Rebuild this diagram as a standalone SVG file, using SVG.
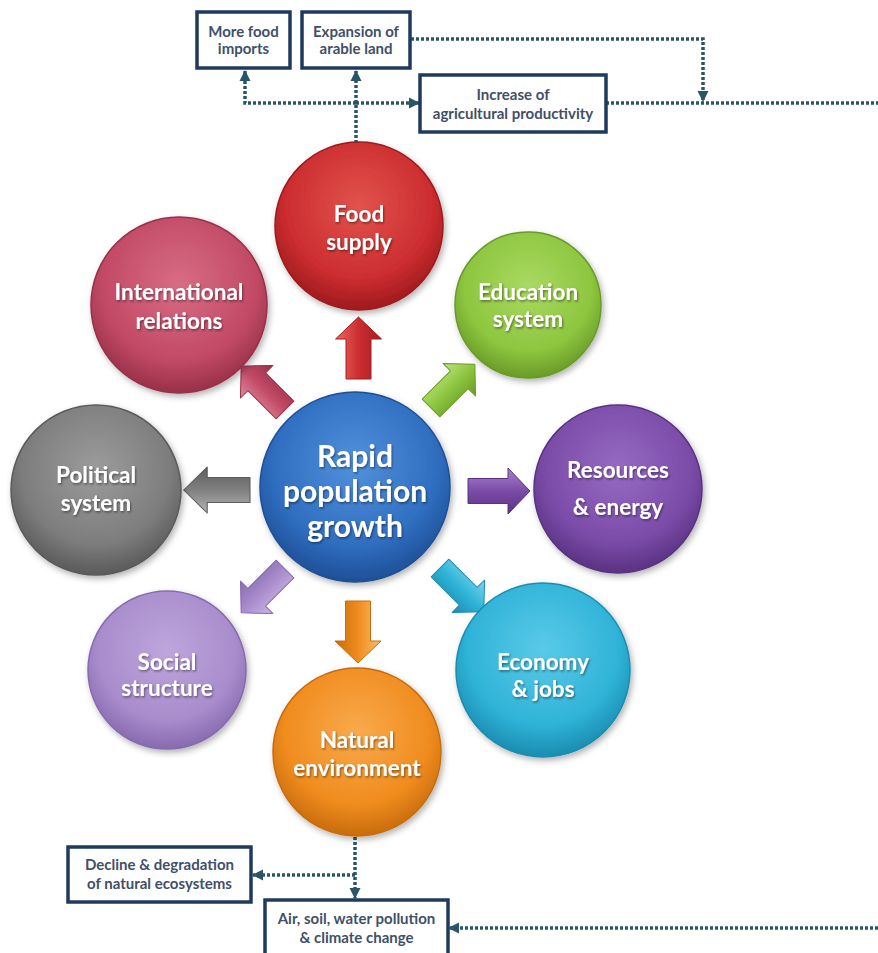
<svg xmlns="http://www.w3.org/2000/svg" width="878" height="953" viewBox="0 0 878 953">
<defs>
<style>
.c{font-family:Lato,"Open Sans","DejaVu Sans",sans-serif;font-weight:bold;fill:#fff;text-anchor:middle;filter:url(#ts)}
.cl{font-size:22.5px}
.big{font-size:30px}
.bx rect{fill:#fff;stroke:#1f3a5c;stroke-width:3.5}
.bt{font-family:Lato,"Open Sans","DejaVu Sans",sans-serif;font-weight:bold;font-size:15px;fill:#3f5068;text-anchor:middle}
.dl{fill:none;stroke:#2a5566;stroke-width:3.5;stroke-dasharray:3 2}
.ar{stroke-width:1;stroke-linejoin:round}
</style>
<filter id="ds" x="-20%" y="-20%" width="140%" height="140%"><feDropShadow dx="2" dy="3" stdDeviation="3" flood-color="#000" flood-opacity="0.3"/></filter>
<filter id="ts" x="-10%" y="-30%" width="120%" height="160%"><feDropShadow dx="1" dy="1.5" stdDeviation="1" flood-color="#000" flood-opacity="0.45"/></filter>
<marker id="ah" markerUnits="userSpaceOnUse" markerWidth="12" markerHeight="12" viewBox="0 0 12 12" refX="10" refY="6" orient="auto"><path d="M0,0.5 L11,6 L0,11.5 Z" fill="#2a5566"/></marker>
<path id="arr" d="M0,-12.5 L40,-12.5 L40,-23 L62,0 L40,23 L40,12.5 L0,12.5 Z"/>
<radialGradient id="gBlue" cx="50%" cy="38%" r="62%"><stop offset="0" stop-color="#5291dc"/><stop offset="0.7" stop-color="#2f6dbf"/><stop offset="1" stop-color="#1e4f96"/></radialGradient>
<radialGradient id="gRed" cx="50%" cy="38%" r="62%"><stop offset="0" stop-color="#e2534c"/><stop offset="0.7" stop-color="#cc2d30"/><stop offset="1" stop-color="#9e1a1e"/></radialGradient>
<radialGradient id="gPink" cx="50%" cy="38%" r="62%"><stop offset="0" stop-color="#d86c84"/><stop offset="0.7" stop-color="#c24a66"/><stop offset="1" stop-color="#983048"/></radialGradient>
<radialGradient id="gGreen" cx="50%" cy="38%" r="62%"><stop offset="0" stop-color="#aad962"/><stop offset="0.7" stop-color="#8dc63f"/><stop offset="1" stop-color="#6a9a28"/></radialGradient>
<radialGradient id="gGray" cx="50%" cy="38%" r="62%"><stop offset="0" stop-color="#9c9c9c"/><stop offset="0.7" stop-color="#7d7d7d"/><stop offset="1" stop-color="#5a5a5a"/></radialGradient>
<radialGradient id="gPurple" cx="50%" cy="38%" r="62%"><stop offset="0" stop-color="#966ac2"/><stop offset="0.7" stop-color="#7b4ca8"/><stop offset="1" stop-color="#5a3282"/></radialGradient>
<radialGradient id="gLav" cx="50%" cy="38%" r="62%"><stop offset="0" stop-color="#bea6dc"/><stop offset="0.7" stop-color="#a88ccc"/><stop offset="1" stop-color="#886ab0"/></radialGradient>
<radialGradient id="gCyan" cx="50%" cy="38%" r="62%"><stop offset="0" stop-color="#5acae8"/><stop offset="0.7" stop-color="#2fb3d8"/><stop offset="1" stop-color="#1a8cb0"/></radialGradient>
<radialGradient id="gOrange" cx="50%" cy="38%" r="62%"><stop offset="0" stop-color="#f9aa4c"/><stop offset="0.7" stop-color="#f08c1e"/><stop offset="1" stop-color="#c86c0c"/></radialGradient>
<linearGradient id="aRed" x1="0" y1="0" x2="0" y2="1"><stop offset="0" stop-color="#e86a60"/><stop offset="0.5" stop-color="#cc2d30"/><stop offset="1" stop-color="#a41e22"/></linearGradient>
<linearGradient id="aPink" x1="0" y1="0" x2="0" y2="1"><stop offset="0" stop-color="#e08aa0"/><stop offset="0.5" stop-color="#c24a66"/><stop offset="1" stop-color="#9a3048"/></linearGradient>
<linearGradient id="aGreen" x1="0" y1="0" x2="0" y2="1"><stop offset="0" stop-color="#c0e480"/><stop offset="0.5" stop-color="#8dc63f"/><stop offset="1" stop-color="#6a9a28"/></linearGradient>
<linearGradient id="aGray" x1="0" y1="0" x2="0" y2="1"><stop offset="0" stop-color="#b4b4b4"/><stop offset="0.5" stop-color="#808080"/><stop offset="1" stop-color="#5c5c5c"/></linearGradient>
<linearGradient id="aPurple" x1="0" y1="0" x2="0" y2="1"><stop offset="0" stop-color="#a884cc"/><stop offset="0.5" stop-color="#7b4ca8"/><stop offset="1" stop-color="#5a3282"/></linearGradient>
<linearGradient id="aLav" x1="0" y1="0" x2="0" y2="1"><stop offset="0" stop-color="#ccb8e4"/><stop offset="0.5" stop-color="#a88ccc"/><stop offset="1" stop-color="#886ab0"/></linearGradient>
<linearGradient id="aCyan" x1="0" y1="0" x2="0" y2="1"><stop offset="0" stop-color="#7ad6ee"/><stop offset="0.5" stop-color="#2fb3d8"/><stop offset="1" stop-color="#1a8cb0"/></linearGradient>
<linearGradient id="aOrange" x1="0" y1="0" x2="0" y2="1"><stop offset="0" stop-color="#fbbf6c"/><stop offset="0.5" stop-color="#f08c1e"/><stop offset="1" stop-color="#c86c0c"/></linearGradient>
</defs>
<rect width="878" height="953" fill="#fff"/>

<g id="connectors">
<path class="dl" d="M356,143 V71" marker-end="url(#ah)"/>
<path class="dl" d="M356,103 H245 V71" marker-end="url(#ah)"/>
<path class="dl" d="M356,103 H419" marker-end="url(#ah)"/>
<path class="dl" d="M411,39 H703 V101" marker-end="url(#ah)"/>
<path class="dl" d="M606,103 H878"/>
<path class="dl" d="M355,837 V898" marker-end="url(#ah)"/>
<path class="dl" d="M355,875 H253" marker-end="url(#ah)"/>
<path class="dl" d="M878,928 H449" marker-end="url(#ah)"/>
</g>

<g id="block-arrows">
<use href="#arr" class="ar" fill="url(#aRed)" stroke="#a41e22" transform="translate(358.5,379) rotate(-90)"/>
<use href="#arr" class="ar" fill="url(#aGray)" stroke="#5c5c5c" transform="translate(250,490) rotate(180) scale(1.07,1)"/>
<use href="#arr" class="ar" fill="url(#aPurple)" stroke="#5a3282" transform="translate(468,491)"/>
<use href="#arr" class="ar" fill="url(#aOrange)" stroke="#c86c0c" transform="translate(358,601) rotate(90)"/>
<use href="#arr" class="ar" fill="url(#aPink)" stroke="#9a3048" transform="translate(285,410) rotate(-135)"/>
<use href="#arr" class="ar" fill="url(#aGreen)" stroke="#6a9a28" transform="translate(431,408) rotate(-45)"/>
<use href="#arr" class="ar" fill="url(#aLav)" stroke="#886ab0" transform="translate(285,569) rotate(135)"/>
<use href="#arr" class="ar" fill="url(#aCyan)" stroke="#1a8cb0" transform="translate(440,568) rotate(45)"/>
</g>

<g id="rapid-population-growth">
<circle cx="355" cy="487" r="95" fill="url(#gBlue)" stroke="#1e4f96" stroke-width="1.5" filter="url(#ds)"/>
<text class="c big" x="355" y="467">Rapid</text>
<text class="c big" x="355" y="502">population</text>
<text class="c big" x="355" y="537">growth</text>
</g>

<g id="food-supply">
<circle cx="359" cy="226" r="84" fill="url(#gRed)" stroke="#9e1a1e" stroke-width="1.5" filter="url(#ds)"/>
<text class="c cl" x="359" y="222">Food</text>
<text class="c cl" x="359" y="250">supply</text>
</g>

<g id="international-relations">
<circle cx="179" cy="305" r="88" fill="url(#gPink)" stroke="#983048" stroke-width="1.5" filter="url(#ds)"/>
<text class="c cl" x="179" y="300">International</text>
<text class="c cl" x="179" y="329">relations</text>
</g>

<g id="education-system">
<circle cx="528" cy="305" r="73" fill="url(#gGreen)" stroke="#6a9a28" stroke-width="1.5" filter="url(#ds)"/>
<text class="c cl" x="528" y="300">Education</text>
<text class="c cl" x="528" y="327">system</text>
</g>

<g id="political-system">
<circle cx="96" cy="490" r="85" fill="url(#gGray)" stroke="#5a5a5a" stroke-width="1.5" filter="url(#ds)"/>
<text class="c cl" x="96" y="483">Political</text>
<text class="c cl" x="96" y="511">system</text>
</g>

<g id="resources-energy">
<circle cx="618" cy="489" r="84" fill="url(#gPurple)" stroke="#5a3282" stroke-width="1.5" filter="url(#ds)"/>
<text class="c cl" x="618" y="478">Resources</text>
<text class="c cl" x="618" y="515">&amp; energy</text>
</g>

<g id="social-structure">
<circle cx="167" cy="670" r="79" fill="url(#gLav)" stroke="#886ab0" stroke-width="1.5" filter="url(#ds)"/>
<text class="c cl" x="167" y="670">Social</text>
<text class="c cl" x="167" y="696">structure</text>
</g>

<g id="economy-jobs">
<circle cx="543" cy="670" r="87" fill="url(#gCyan)" stroke="#1a8cb0" stroke-width="1.5" filter="url(#ds)"/>
<text class="c cl" x="543" y="670">Economy</text>
<text class="c cl" x="543" y="697">&amp; jobs</text>
</g>

<g id="natural-environment">
<circle cx="357" cy="752" r="84" fill="url(#gOrange)" stroke="#c86c0c" stroke-width="1.5" filter="url(#ds)"/>
<text class="c cl" x="357" y="748">Natural</text>
<text class="c cl" x="357" y="776">environment</text>
</g>

<g id="more-food-imports" class="bx">
<rect x="197" y="12" width="93" height="56"/>
<text class="bt" x="243.5" y="37">More food</text>
<text class="bt" x="243.5" y="54">imports</text>
</g>

<g id="expansion-arable-land" class="bx">
<rect x="302" y="12" width="108" height="56"/>
<text class="bt" x="356" y="37">Expansion of</text>
<text class="bt" x="356" y="54">arable land</text>
</g>

<g id="increase-agricultural-productivity" class="bx">
<rect x="420" y="75" width="186" height="57"/>
<text class="bt" x="513" y="100">Increase of</text>
<text class="bt" x="513" y="118.5">agricultural productivity</text>
</g>

<g id="decline-degradation" class="bx">
<rect x="68" y="847" width="183" height="55"/>
<text class="bt" x="159.5" y="870">Decline &amp; degradation</text>
<text class="bt" x="159.5" y="888.5">of natural ecosystems</text>
</g>

<g id="pollution-climate" class="bx">
<rect x="265" y="900" width="183" height="58"/>
<text class="bt" x="356.5" y="924">Air, soil, water pollution</text>
<text class="bt" x="356.5" y="943">&amp; climate change</text>
</g>
</svg>
